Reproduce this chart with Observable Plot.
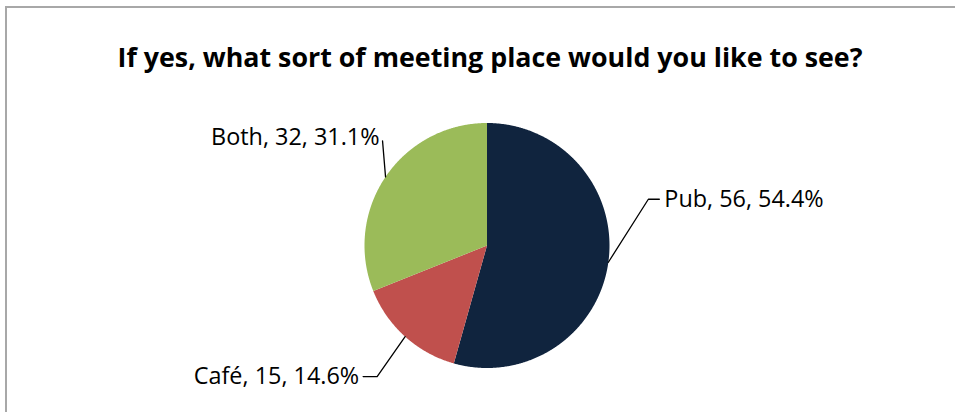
<!DOCTYPE html>
<html><head><meta charset="utf-8">
<script src="https://cdn.jsdelivr.net/npm/d3@7"></script>
<script src="https://cdn.jsdelivr.net/npm/@observablehq/plot@0.6"></script>
<style>
body{margin:0;background:#fff;overflow:hidden}
#wrap{position:relative;width:955px;height:412px;overflow:hidden}
#border{position:absolute;left:5px;top:6px;width:1000px;height:500px;border-left:2px solid #a8a8a8;border-top:2px solid #a8a8a8;pointer-events:none}
</style></head><body><div id="wrap"><div id="chart"></div><div id="border"></div></div>
<script>
// ---- data ----
const title = "If yes, what sort of meeting place would you like to see?";
const categories = ["Pub", "Café", "Both"];
const counts = [56, 15, 32];
const percents = ["54.4%", "14.6%", "31.1%"];
const colors = ["#10243E", "#C0504D", "#9BBB59"];

// ---- layout (pixels) ----
const W = 955, H = 412, CX = 486.5, CY = 245, R = 122.5;
const FONT = "'Open Sans', sans-serif";
const labelLayout = [
  {elbow: [40, -63], end: [51, -63], text: [56, -63], anchor: "start"},
  {elbow: [-28, 40], end: [-42, 40], text: [-46, 40], anchor: "end"},
  {elbow: null, end: [-3, -36], text: [-6, -39], anchor: "end"}
];

const pie = d3.pie().sort(null).value(d => d.count)(categories.map((c, i) => ({cat: c, count: counts[i], pct: percents[i]})));
const pt = a => [Math.sin(a), Math.cos(a)];
const px = ([dx, dy]) => [dx / R, -dy / R];

const slicePts = [];
pie.forEach(s => {
  slicePts.push({cat: s.data.cat, x: 0, y: 0});
  const n = Math.max(2, Math.ceil((s.endAngle - s.startAngle) / 0.005));
  for (let k = 0; k <= n; k++) {
    const a = s.startAngle + (s.endAngle - s.startAngle) * k / n;
    const [x, y] = pt(a);
    slicePts.push({cat: s.data.cat, x, y});
  }
});

const leaderPts = [];
const labels = [];
pie.forEach((s, i) => {
  const L = labelLayout[i];
  const mid = (s.startAngle + s.endAngle) / 2;
  const [mx, my] = pt(mid);
  leaderPts.push({cat: s.data.cat, x: mx, y: my});
  const toData = off => { const [ox, oy] = px(off); return {x: mx + ox, y: my + oy}; };
  if (L.elbow) leaderPts.push({cat: s.data.cat, ...toData(L.elbow)});
  leaderPts.push({cat: s.data.cat, ...toData(L.end)});
  labels.push({...toData(L.text), text: `${s.data.cat}, ${s.data.count}, ${s.data.pct}`, anchor: L.anchor});
});

const chart = Plot.plot({
  width: W, height: H, margin: 0,
  style: {background: "transparent", overflow: "visible"},
  x: {domain: [-CX / R, (W - CX) / R], range: [0, W], axis: null},
  y: {domain: [-(H - CY) / R, CY / R], range: [H, 0], axis: null},
  color: {domain: categories, range: colors},
  marks: [
    Plot.line(slicePts, {x: "x", y: "y", z: "cat", fill: "cat", stroke: "none", curve: "linear-closed"}),
    Plot.line(leaderPts, {x: "x", y: "y", z: "cat", stroke: "#000", strokeWidth: 1.3}),
    Plot.text(labels.filter(d => d.anchor === "start"), {x: "x", y: "y", text: "text", textAnchor: "start", lineAnchor: "middle", fontSize: 23.4, fontFamily: FONT, fill: "#000"}),
    Plot.text(labels.filter(d => d.anchor === "end"), {x: "x", y: "y", text: "text", textAnchor: "end", lineAnchor: "middle", fontSize: 23.4, fontFamily: FONT, fill: "#000"}),
    Plot.text([title], {frameAnchor: "top", dx: 12, dy: 58, lineAnchor: "middle", fontSize: 26.8, fontWeight: "bold", fontFamily: FONT, fill: "#000"})
  ]
});
document.getElementById("chart").appendChild(chart);
</script></body></html>
